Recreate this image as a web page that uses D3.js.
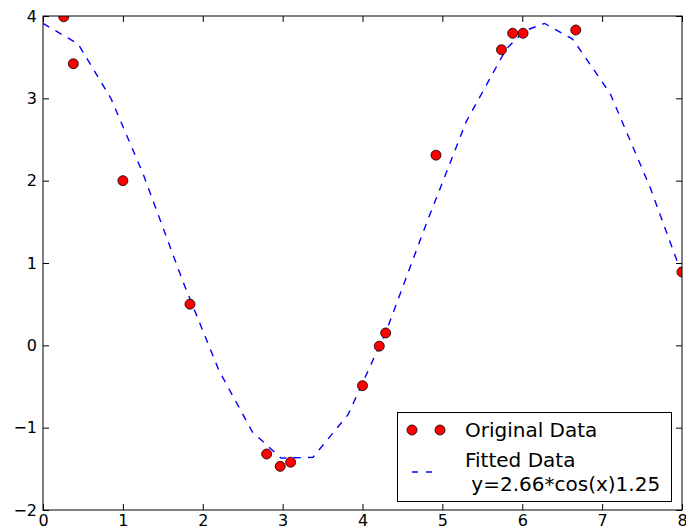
<!DOCTYPE html>
<html>
<head>
<meta charset="utf-8">
<script src="https://cdn.jsdelivr.net/npm/d3@7"></script>
<style>
  html, body { margin: 0; padding: 0; background: #fff; }
  svg { display: block; font-family: "DejaVu Sans", sans-serif; }
</style>
</head>
<body>
<svg id="chart" width="686" height="531"></svg>
<script>
// ---- data ----
const dataX = [0.26, 0.38, 1.00, 1.84, 2.80, 2.97, 3.10, 4.00, 4.21, 4.29, 4.92, 5.74, 5.88, 6.01, 6.67, 8.00];
const dataY = [3.99, 3.42, 2.00, 0.50, -1.32, -1.47, -1.42, -0.49, -0.01, 0.15, 2.31, 3.59, 3.79, 3.79, 3.83, 0.89];

const fitX = [0, 0.44, 0.85, 1.25, 1.75, 2.2, 2.62, 2.98, 3.38, 3.82, 4.3, 4.8, 5.3, 5.8, 6.03, 6.28, 6.63, 7.1, 7.6, 8.0];
const fitY = [3.91, 3.66, 3.00, 2.09, 0.78, -0.30, -1.05, -1.37, -1.36, -0.84, 0.18, 1.48, 2.72, 3.60, 3.82, 3.91, 3.72, 3.06, 1.92, 0.86];

const xTicks = [0, 1, 2, 3, 4, 5, 6, 7, 8];
const yTicks = [-2, -1, 0, 1, 2, 3, 4];

const legendLabels = ["Original Data", "Fitted Data", " y=2.66*cos(x)1.25"];

// ---- layout ----
const svg = d3.select("#chart");
const L = 43, R = 682, T = 16, B = 510;
const x = d3.scaleLinear().domain([0, 8]).range([L, R]);
const y = d3.scaleLinear().domain([-2, 4]).range([B, T]);

svg.append("defs").append("clipPath").attr("id", "clip")
  .append("rect").attr("x", L).attr("y", T).attr("width", R - L).attr("height", B - T);

const plot = svg.append("g").attr("clip-path", "url(#clip)");

// fitted line
const line = d3.line().x(d => x(d[0])).y(d => y(d[1]));
plot.append("path")
  .datum(fitX.map((v, i) => [v, fitY[i]]))
  .attr("d", line)
  .attr("fill", "none")
  .attr("stroke", "#0000ff")
  .attr("stroke-width", 1.4)
  .attr("stroke-dasharray", "7.2,7.2");

// data points
plot.selectAll("circle.pt")
  .data(dataX.map((v, i) => [v, dataY[i]]))
  .enter().append("circle")
  .attr("class", "pt")
  .attr("cx", d => x(d[0]))
  .attr("cy", d => y(d[1]))
  .attr("r", 5)
  .attr("fill", "#ff0000")
  .attr("stroke", "#000")
  .attr("stroke-width", 0.8);

// axes (ticks inside, on all four sides)
const tickLen = 6;
const fmt = d => (d < 0 ? "\u2212" + Math.abs(d) : String(d));

const axB = svg.append("g").attr("transform", `translate(0,${B})`)
  .call(d3.axisBottom(x).tickValues(xTicks).tickSizeInner(-tickLen).tickSizeOuter(0).tickPadding(5).tickFormat(fmt));
const axT = svg.append("g").attr("transform", `translate(0,${T})`)
  .call(d3.axisTop(x).tickValues(xTicks).tickSizeInner(-tickLen).tickSizeOuter(0).tickFormat(""));
const axL = svg.append("g").attr("transform", `translate(${L},0)`)
  .call(d3.axisLeft(y).tickValues(yTicks).tickSizeInner(-tickLen).tickSizeOuter(0).tickPadding(6).tickFormat(fmt));
const axR = svg.append("g").attr("transform", `translate(${R},0)`)
  .call(d3.axisRight(y).tickValues(yTicks).tickSizeInner(-tickLen).tickSizeOuter(0).tickFormat(""));

[axB, axT, axL, axR].forEach(g => {
  g.select(".domain").remove();
  g.selectAll(".tick line").attr("stroke", "#000").attr("stroke-width", 1);
  g.selectAll(".tick text").attr("fill", "#000").attr("font-size", 16).attr("font-family", "DejaVu Sans");
});

// frame
svg.append("rect").attr("x", L).attr("y", T).attr("width", R - L).attr("height", B - T)
  .attr("fill", "none").attr("stroke", "#000").attr("stroke-width", 1);

// legend
const lg = svg.append("g");
lg.append("rect").attr("x", 397.5).attr("y", 412.5).attr("width", 274).attr("height", 89)
  .attr("fill", "#fff").attr("stroke", "#000").attr("stroke-width", 1);
[412, 440].forEach(cx => {
  lg.append("circle").attr("cx", cx).attr("cy", 430).attr("r", 5)
    .attr("fill", "#ff0000").attr("stroke", "#000").attr("stroke-width", 0.8);
});
lg.append("line").attr("x1", 412).attr("x2", 437).attr("y1", 472).attr("y2", 472)
  .attr("stroke", "#0000ff").attr("stroke-width", 1.4).attr("stroke-dasharray", "6,8");
lg.append("text").attr("x", 465).attr("y", 437).attr("font-size", 20).text(legendLabels[0]);
lg.append("text").attr("x", 465).attr("y", 467).attr("font-size", 20).text(legendLabels[1]);
lg.append("text").attr("x", 465).attr("y", 491).attr("font-size", 20)
  .attr("xml:space", "preserve").style("white-space", "pre").text(legendLabels[2]);
</script>
</body>
</html>
